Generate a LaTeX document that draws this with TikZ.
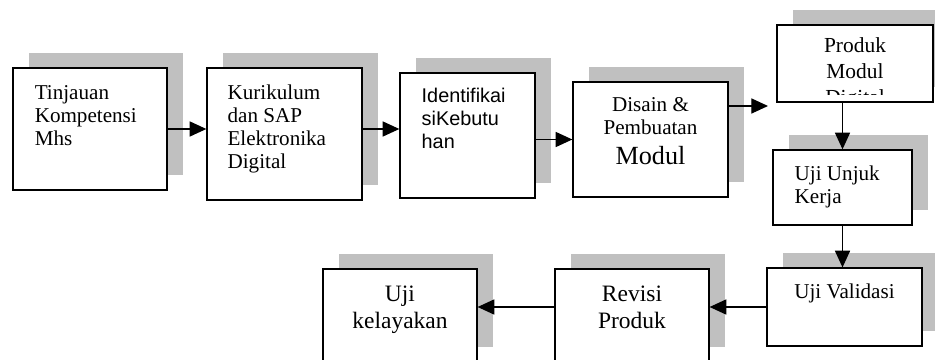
\documentclass[tikz,border=0pt]{standalone}
\usepackage{fontspec}
\setmainfont{Liberation Serif}
\newfontfamily\arialfont{Liberation Sans}
\usetikzlibrary{positioning,shadows,arrows.meta}
\definecolor{bayang}{RGB}{192,192,192}

\begin{document}
\begin{tikzpicture}[x=0.63pt, y=-0.63pt,
        kotak/.style={draw, fill=white, line width=0.8pt, inner sep=0pt,
            drop shadow={shadow xshift=10.1pt, shadow yshift=9.45pt, opacity=1, fill=bayang}},
        teks/.style={inner sep=0pt, font=\fontsize{13.3}{14.5}\selectfont},
        panah/.style={line width=0.8pt, -{Triangle[length=10.5pt, width=9.5pt]}}]
        \useasboundingbox (0,0) rectangle (935,360);
        \clip (0,0) rectangle (935,360);
        % Kotak baris atas
        \node[kotak, minimum width=97pt, minimum height=76.9pt] (b1) at (90,129) {};
        \node[kotak, minimum width=97.7pt, minimum height=83.2pt] (b2) at (284.5,134) {};
        \node[kotak, minimum width=85.1pt, minimum height=78.8pt] (b3) at (467.5,135.5) {};
        \node[kotak, minimum width=97.7pt, minimum height=72.5pt] (b4) at (650.5,139.5) {};
        % Kotak kolom kanan
        \node[kotak, minimum width=98.3pt, minimum height=48.5pt] (b5) at (855,63.5) {};
        \node[kotak, minimum width=87.6pt, minimum height=47.3pt] (b6) at (842.5,187.5) {};
        \node[kotak, minimum width=97.7pt, minimum height=49.1pt] (b7) at (844.5,307) {};
        % Kotak baris bawah
        \node[kotak, minimum width=97pt, minimum height=58.6pt] (b8) at (632,315.5) {};
        \node[kotak, minimum width=97pt, minimum height=58.6pt] (b9) at (400,315.5) {};
        % Teks
        \node[teks, align=left, below right=11.3pt and 13.9pt of b1.north west] (t1) {Tinjauan\\Kompetensi\\Mhs};
        \node[teks, align=left, below right=10.7pt and 13.2pt of b2.north west] (t2) {Kurikulum\\dan SAP\\Elektronika\\Digital};
        \node[teks, align=left, font=\arialfont\fontsize{12.5}{14.5}\selectfont,
            below right=10pt and 13.9pt of b3.north west] (t3) {Identifikai\\siKebutu\\han};
        \node[teks, align=center, below=10pt of b4.north] (t4) {Disain \&\\Pembuatan\\[4.4pt]{\fontsize{16.5}{19}\selectfont Modul}};
        \begin{scope}
            \clip (b5.north west) rectangle ([yshift=5.2pt]b5.south east);
            \node[teks, align=center, font=\fontsize{13.5}{16.4}\selectfont,
                below=8.4pt of b5.north] (t5) {Produk\\Modul\\Digital};
        \end{scope}
        \node[teks, align=left, below right=10pt and 13.9pt of b6.north west] (t6) {Uji Unjuk\\Kerja};
        \node[teks, align=center, below=10pt of b7.north] (t7) {Uji Validasi};
        \node[teks, align=center, font=\fontsize{14.8}{17}\selectfont, below=10.7pt of b8.north] (t8) {Revisi\\Produk};
        \node[teks, align=center, font=\fontsize{14.8}{17}\selectfont, below=10.7pt of b9.north] (t9) {Uji\\kelayakan};
        % Panah
        \coordinate (ujung) at (768,106);
        \draw[panah] (b1.east) -- (b1.east -| b2.west);
        \draw[panah] (b1.east -| b2.east) -- (b1.east -| b3.west);
        \draw[panah] (b4.west -| b3.east) -- (b4.west);
        \draw[panah] (ujung -| b4.east) -- (ujung);
        \draw[panah] (b6.north |- b5.south) -- (b6.north);
        \draw[panah] (b6.south) -- (b6.south |- b7.north);
        \draw[panah] (b7.west) -- (b7.west -| b8.east);
        \draw[panah] (b7.west -| b8.west) -- (b7.west -| b9.east);
\end{tikzpicture}
\end{document}
